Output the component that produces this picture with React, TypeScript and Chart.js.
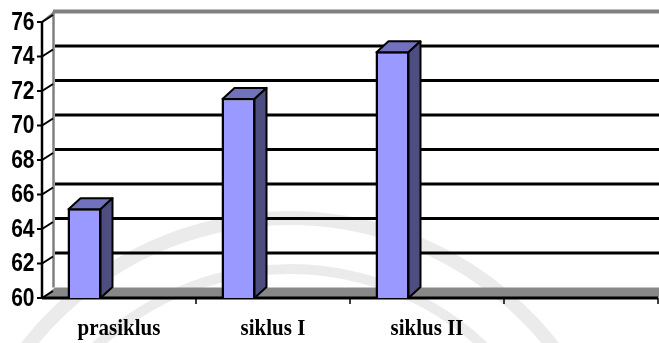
import React, { useEffect, useRef } from 'react';
import { Chart, registerables } from 'chart.js';
Chart.register(...registerables);

const categories = ['prasiklus', 'siklus I', 'siklus II', ''];
const values = [65.2, 71.6, 74.3, null];
const placeholder = [null, null, null, null];
const yTicks = [60, 62, 64, 66, 68, 70, 72, 74, 76];

export default function App() {
  const ref = useRef<HTMLCanvasElement>(null);
  useEffect(() => {
    const canvas = ref.current!;
    const DX = 13, DY = -10.5;
    const BDX = 12, BDY = -11;
    const yMin = yTicks[0], yMax = yTicks[yTicks.length - 1];

    const plugin = {
      id: 'threeD',
      beforeDraw(chart: any) {
        const ctx = chart.ctx;
        ctx.save();
        ctx.fillStyle = '#ffffff';
        ctx.fillRect(0, 0, chart.width, chart.height);
        ctx.strokeStyle = 'rgba(0,0,0,0.08)';
        ctx.lineWidth = 14;
        ctx.beginPath();
        ctx.arc(290, 551, 333, Math.PI * 1.05, Math.PI * 1.9);
        ctx.stroke();
        ctx.lineWidth = 10;
        ctx.beginPath();
        ctx.arc(290, 551, 282, Math.PI * 1.2, Math.PI * 1.8);
        ctx.stroke();
        ctx.restore();
      },
      beforeDatasetsDraw(chart: any) {
        const { ctx, chartArea: a, scales } = chart;
        const x = scales.x, y = scales.y;
        const y0 = y.getPixelForValue(yMin);
        const yT = y.getPixelForValue(yMax);
        ctx.save();
        ctx.strokeStyle = '#000';
        ctx.lineWidth = 3;
        for (const v of yTicks) {
          if (v === yMin || v === yMax) continue;
          const py = y.getPixelForValue(v) + DY;
          ctx.beginPath();
          ctx.moveTo(a.left + DX, py);
          ctx.lineTo(chart.width, py);
          ctx.stroke();
        }
        ctx.strokeStyle = '#808080';
        ctx.lineWidth = 4;
        ctx.beginPath();
        ctx.moveTo(a.left + DX - 2, yT + DY);
        ctx.lineTo(chart.width, yT + DY);
        ctx.stroke();
        ctx.lineWidth = 2.5;
        ctx.beginPath();
        ctx.moveTo(a.left + DX - 1.5, yT + DY);
        ctx.lineTo(a.left + DX - 1.5, y0 + DY);
        ctx.stroke();
        ctx.lineWidth = 2;
        ctx.beginPath();
        ctx.moveTo(a.left, yT);
        ctx.lineTo(a.left + DX, yT + DY);
        ctx.stroke();
        ctx.fillStyle = '#888888';
        ctx.beginPath();
        ctx.moveTo(a.left, y0);
        ctx.lineTo(a.right, y0);
        ctx.lineTo(a.right + DX, y0 + DY);
        ctx.lineTo(a.left + DX, y0 + DY);
        ctx.closePath();
        ctx.fill();
        ctx.strokeStyle = '#000';
        ctx.lineWidth = 2.5;
        ctx.beginPath();
        ctx.moveTo(a.left, yT);
        ctx.lineTo(a.left, y0);
        ctx.stroke();
        ctx.lineWidth = 2;
        ctx.font = "bold 21px 'Liberation Sans', Arial, sans-serif";
        ctx.fillStyle = '#000';
        ctx.textAlign = 'right';
        ctx.textBaseline = 'middle';
        for (const v of yTicks) {
          const py = y.getPixelForValue(v);
          ctx.beginPath();
          ctx.moveTo(a.left - 5, py);
          ctx.lineTo(a.left, py);
          ctx.lineTo(a.left + 11, py - 7);
          ctx.stroke();
          ctx.save();
          ctx.translate(a.left - 7.5, py + 0.5);
          ctx.scale(1, 1.22);
          ctx.fillText(String(v), 0, 0);
          ctx.restore();
        }
        ctx.lineWidth = 3;
        ctx.beginPath();
        ctx.moveTo(a.left, y0);
        ctx.lineTo(a.right, y0);
        ctx.stroke();
        ctx.lineWidth = 1.5;
        for (let i = 0; i < categories.length; i++) {
          const px = x.getPixelForValue(i + 0.5);
          ctx.beginPath();
          ctx.moveTo(px, y0);
          ctx.lineTo(px, y0 + 6);
          ctx.stroke();
        }
        ctx.font = "bold 21px 'Liberation Serif', 'Times New Roman', serif";
        ctx.textAlign = 'center';
        ctx.textBaseline = 'alphabetic';
        categories.forEach((c, i) => {
          ctx.save();
          ctx.translate(x.getPixelForValue(i), 335);
          ctx.scale(1, 1.1);
          ctx.fillText(c, 0, 0);
          ctx.restore();
        });
        ctx.restore();
      },
      afterDatasetsDraw(chart: any) {
        const ctx = chart.ctx;
        const yScale = chart.scales.y;
        const yb = yScale.getPixelForValue(yMin);
        const meta = chart.getDatasetMeta(0);
        ctx.save();
        ctx.strokeStyle = '#000';
        ctx.lineWidth = 2;
        ctx.lineJoin = 'round';
        meta.data.forEach((el: any, i: number) => {
          if (values[i] == null) return;
          const x = el.x, width = el.width;
          const yt = yScale.getPixelForValue(values[i] as number) + 1;
          const x1 = x - width / 2 + 1, x2 = x + width / 2 - 1;
          ctx.fillStyle = '#7171BD';
          ctx.beginPath();
          ctx.moveTo(x1, yt);
          ctx.lineTo(x2, yt);
          ctx.lineTo(x2 + BDX, yt + BDY);
          ctx.lineTo(x1 + BDX, yt + BDY);
          ctx.closePath();
          ctx.fill();
          ctx.stroke();
          ctx.fillStyle = '#4D4D80';
          ctx.beginPath();
          ctx.moveTo(x2, yt);
          ctx.lineTo(x2 + BDX, yt + BDY);
          ctx.lineTo(x2 + BDX, yb + BDY);
          ctx.lineTo(x2, yb);
          ctx.closePath();
          ctx.fill();
          ctx.stroke();
        });
        ctx.restore();
      },
    };

    const chart = new Chart(canvas, {
      type: 'bar',
      data: {
        labels: categories,
        datasets: [
          {
            data: values,
            backgroundColor: '#9999FF',
            borderColor: '#000000',
            borderWidth: 2.5,
            borderSkipped: false,
            categoryPercentage: 0.896,
            barPercentage: 0.4928,
          },
          {
            data: placeholder,
            categoryPercentage: 0.896,
            barPercentage: 0.4928,
          },
        ],
      } as any,
      options: {
        animation: false,
        responsive: false,
        devicePixelRatio: 1,
        layout: { padding: { left: 42, right: 1, top: 22, bottom: 45 } },
        plugins: { legend: { display: false }, tooltip: { enabled: false } },
        scales: {
          x: { display: false, offset: true, grid: { display: false } },
          y: { display: false, min: yMin, max: yMax, ticks: { stepSize: 2 } },
        },
      } as any,
      plugins: [plugin],
    });
    return () => chart.destroy();
  }, []);

  return (
    <div style={{ position: 'fixed', left: 0, top: 0, width: 659, height: 343, background: '#fff' }}>
      <canvas ref={ref} width={659} height={343} style={{ display: 'block' }} />
    </div>
  );
}
